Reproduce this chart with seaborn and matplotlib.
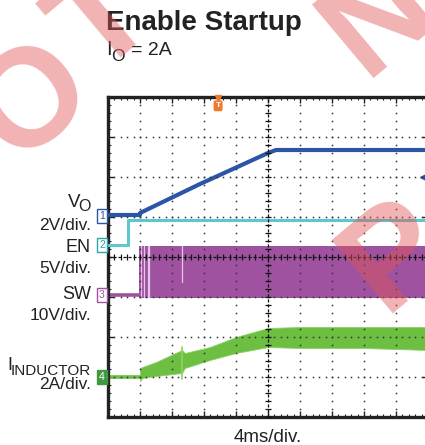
import numpy as np
import pandas as pd
import seaborn as sns
import matplotlib.pyplot as plt

# scope settings (per division)
MS_PER_DIV = 4.0
VO_SCALE, EN_SCALE, SW_SCALE, IL_SCALE = 2.0, 5.0, 10.0, 2.0

# trace data, time in ms from left edge of screen
vo_t = [0.0, 4.0, 4.0, 11.5, 20.0, 21.0, 40.0]
vo_v = [0.0, 0.0, 0.1, 1.55, 3.1, 3.25, 3.25]

en_t = [0.0, 2.5, 2.5, 40.0]
en_v = [0.0, 0.0, 3.1, 3.1]

sw_low_t = [0.0, 3.9]
sw_low_v = [0.0, 0.0]
sw_band_t = [3.9, 40.0]
sw_band_lo = [-0.7, -0.7]
sw_band_hi = [12.2, 12.2]
sw_gap_t = [4.1, 4.45, 4.95, 5.1, 9.3]
sw_gap_lo = [-0.6, -0.6, -0.6, -0.6, 3.25]

il_low_t = [0.0, 4.0]
il_low_v = [0.0, 0.0]
il_band_t = [4.0, 4.3, 6.0, 9.25, 9.6, 12.75, 16.0, 20.0, 24.0, 32.0, 40.0]
il_band_lo = [-0.2, -0.05, 0.05, 0.2, 0.45, 0.85, 1.2, 1.5, 1.45, 1.45, 1.35]
il_band_hi = [0.45, 0.5, 0.75, 1.35, 1.2, 1.5, 2.0, 2.45, 2.5, 2.5, 2.5]
il_spike_t = 9.3
il_spike = [-0.1, 1.5]

# screen positions of channel ground markers (divisions from centre)
VO_OFF, EN_OFF, SW_OFF, IL_OFF = 1.05, 0.3, -0.95, -3.0

C_VO = "#2c55a6"
C_EN = "#5dc6d0"
C_SW = "#9e52a0"
C_IL = "#6cbf40"
C_TXT = "#222222"

sns.set_theme(style="white")
plt.rcParams["font.family"] = ["Liberation Sans", "DejaVu Sans"]

W, H = 425, 445
fig = plt.figure(figsize=(W / 100, H / 100), dpi=100)
ax = fig.add_axes([108 / W, 28 / H, 320 / W, 320 / H])
ax.set_xlim(0, 10)
ax.set_ylim(-4, 4)


def tx(t):
    return np.asarray(t) / MS_PER_DIV


def ty(v, off, scale):
    return off + np.asarray(v) / scale


vo = pd.DataFrame({"x": tx(vo_t), "y": ty(vo_v, VO_OFF, VO_SCALE)})
en = pd.DataFrame({"x": tx(en_t), "y": ty(en_v, EN_OFF, EN_SCALE)})
sw = pd.DataFrame({"x": tx(sw_low_t), "y": ty(sw_low_v, SW_OFF, SW_SCALE)})
il = pd.DataFrame({"x": tx(il_low_t), "y": ty(il_low_v, IL_OFF, IL_SCALE)})

# traces
ax.fill_between(tx(sw_band_t), ty(sw_band_lo, SW_OFF, SW_SCALE),
                ty(sw_band_hi, SW_OFF, SW_SCALE), color=C_SW, lw=0, zorder=2)
for gt, glo in zip(sw_gap_t, sw_gap_lo):
    ax.plot([tx(gt), tx(gt)], [ty(glo, SW_OFF, SW_SCALE), ty(12.2, SW_OFF, SW_SCALE)],
            color="#e6c6e6", lw=0.9, zorder=2.1)
sns.lineplot(data=sw, x="x", y="y", color=C_SW, lw=2.6, ax=ax, sort=False,
             estimator=None, zorder=2)
ax.fill_between(tx(il_band_t), ty(il_band_lo, IL_OFF, IL_SCALE),
                ty(il_band_hi, IL_OFF, IL_SCALE), color=C_IL, lw=0.6,
                edgecolor="#8fd268", zorder=2)
ax.plot([tx(il_spike_t)] * 2, ty(il_spike, IL_OFF, IL_SCALE), color="#8fd268",
        lw=1.2, zorder=2)
sns.lineplot(data=il, x="x", y="y", color=C_IL, lw=2.6, ax=ax, sort=False,
             estimator=None, zorder=2)
sns.lineplot(data=en, x="x", y="y", color=C_EN, lw=2.2, ax=ax, sort=False,
             estimator=None, zorder=3)
sns.lineplot(data=vo, x="x", y="y", color=C_VO, lw=3.0, ax=ax, sort=False,
             estimator=None, zorder=3)
ax.plot([9.85], [2.0], marker="<", ms=5, color=C_VO, zorder=4, clip_on=False)

# graticule
fine_x = np.arange(0, 10.01, 0.2)
fine_y = np.arange(-4, 4.01, 0.2)
for gx in [1, 2, 3, 4, 6, 7, 8, 9]:
    ax.plot(np.full(len(fine_y), gx), fine_y, ls="none", marker="s", ms=1.1,
            mew=0, color="#333333", zorder=5)
for gy in [-3, -2, -1, 1, 2, 3]:
    ax.plot(fine_x, np.full(len(fine_x), gy), ls="none", marker="s", ms=1.1,
            mew=0, color="#333333", zorder=5)
ax.axhline(0, color="#111111", lw=0.9, ls=(0, (2.5, 1.5)), zorder=5)
ax.axvline(5, color="#111111", lw=0.9, ls=(0, (2.5, 1.5)), zorder=5)
ax.plot(fine_x, np.zeros(len(fine_x)), ls="none", marker="|", ms=5, mew=0.9,
        color="#111111", zorder=5)
ax.plot(np.full(len(fine_y), 5), fine_y, ls="none", marker="_", ms=5, mew=0.9,
        color="#111111", zorder=5)

ax.set_xticks(np.arange(0, 11, 1))
ax.set_yticks(np.arange(-4, 5, 1))
ax.set_xticks(fine_x, minor=True)
ax.set_yticks(fine_y, minor=True)
ax.tick_params(which="both", direction="in", top=True, right=True, bottom=True,
               left=True, labelbottom=False, labelleft=False, color=C_TXT)
ax.tick_params(which="major", length=4, width=1)
ax.tick_params(which="minor", length=2.5, width=0.8)
ax.set_xlabel("")
ax.set_ylabel("")
for sp in ax.spines.values():
    sp.set_color(C_TXT)
    sp.set_linewidth(2.4)

# trigger marker
ax.plot([3.44], [3.97], marker="v", ms=5, color="#f07a2a", zorder=6, clip_on=False)
ax.text(3.44, 3.78, "T", color="white", fontsize=6, fontweight="bold", ha="center",
        va="center", zorder=6,
        bbox=dict(boxstyle="round,pad=0.15", fc="#f07a2a", ec="#f07a2a"))


def fx(x):
    return x / W


def fy(y):
    return 1 - y / H


def label(x, y, s, size, **kw):
    fig.text(fx(x), fy(y), s, fontsize=size, color=C_TXT, va="baseline", **kw)


# channel markers
marks = [("1", 216, "white", C_VO, C_VO), ("2", 245, "white", "#2aa5a8", "#2aa5a8"),
         ("3", 295, "white", C_SW, C_SW), ("4", 377, "#3f9a3f", "#3f9a3f", "white")]
for lab, yy, fc, ec, tc in marks:
    fig.text(fx(102), fy(yy), lab, fontsize=7.5, color=tc, ha="center", va="center",
             bbox=dict(boxstyle="square,pad=0.22", fc=fc, ec=ec, lw=1))

# title block
label(106, 30, "Enable Startup", 20, fontweight="bold", ha="left")
label(106, 55, "I", 14.5, ha="left")
label(111, 61, "O", 12.5, ha="left")
label(131, 55, "= 2A", 14, ha="left")

# channel names and scales
fs = 12.5
label(80, 207, "V", 13.5, ha="right")
label(91, 211, "O", 11.5, ha="right")
label(91, 230, "2V/div.", fs, ha="right")
label(91, 252, "EN", 13, ha="right")
label(91, 273, "5V/div.", fs, ha="right")
label(91, 299, "SW", 13, ha="right")
label(91, 320, "10V/div.", fs, ha="right")
label(12, 370, "I", 13, ha="right")
label(91, 375, "INDUCTOR", 11, ha="right")
label(91, 389, "2A/div.", fs, ha="right")
label(268, 442, "4ms/div.", 13.5, ha="center")

# watermark letters
wm = [("N", -78, 190), ("O", 34, 103), ("T", 104, 22), ("N", 380, 18), ("P", 396, 256)]
for ch, xx, yy in wm:
    fig.text(fx(xx), fy(yy), ch, fontsize=100, color="#e05555", alpha=0.45,
             rotation=40, ha="center", va="center", rotation_mode="anchor",
             fontweight="bold", zorder=20)

fig.savefig("out.png", dpi=100)
